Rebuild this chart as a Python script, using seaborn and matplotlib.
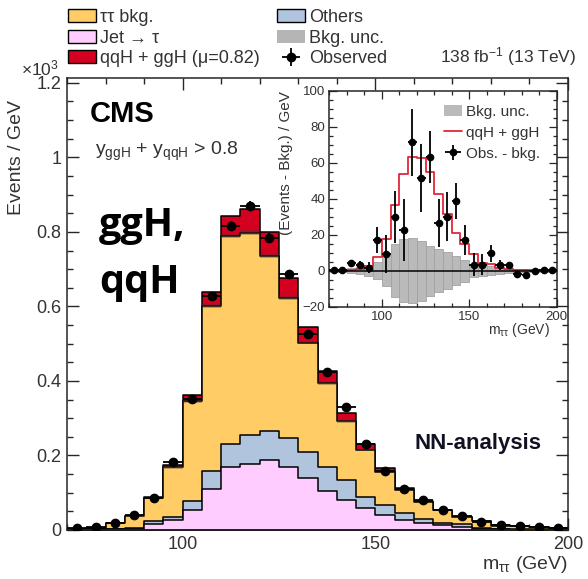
import numpy as np
import pandas as pd
import matplotlib
matplotlib.use("Agg")
import matplotlib.pyplot as plt
from matplotlib.patches import Patch
from matplotlib.lines import Line2D
from matplotlib.ticker import MultipleLocator, FuncFormatter
import seaborn as sns

# ---------------- data ----------------
mass_edges = list(range(70, 205, 5))
mass_centers = np.array(mass_edges[:-1]) + 2.5

# main panel, in units of 10^3 events / GeV
jet_fakes = [0.001, 0.002, 0.003, 0.004, 0.016, 0.027, 0.055, 0.111, 0.170, 0.177,
             0.188, 0.170, 0.139, 0.105, 0.080, 0.058, 0.040, 0.027, 0.018, 0.014,
             0.008, 0.003, 0.002, 0.001, 0.001, 0.0005]
others = [0.0005, 0.001, 0.001, 0.002, 0.007, 0.009, 0.024, 0.046, 0.061, 0.078,
          0.078, 0.076, 0.071, 0.063, 0.054, 0.031, 0.027, 0.019, 0.011, 0.006,
          0.007, 0.002, 0.001, 0.001, 0.0005, 0.0005]
tautau = [0.0015, 0.003, 0.014, 0.031, 0.063, 0.132, 0.266, 0.444, 0.558, 0.543,
          0.470, 0.376, 0.293, 0.227, 0.158, 0.126, 0.089, 0.062, 0.046, 0.033,
          0.020, 0.018, 0.009, 0.008, 0.0055, 0.004]
observed = [0.0046, 0.007, 0.0196, 0.040, 0.087, 0.182, 0.351, 0.628, 0.816, 0.870,
            0.784, 0.686, 0.526, 0.425, 0.329, 0.231, 0.157, 0.110, 0.081, 0.054,
            0.038, 0.022, 0.013, 0.011, 0.007, 0.005]
observed_err = [0.001, 0.001, 0.002, 0.003, 0.004, 0.006, 0.008, 0.011, 0.013, 0.013,
                0.012, 0.012, 0.010, 0.009, 0.008, 0.007, 0.006, 0.005, 0.004, 0.003,
                0.003, 0.002, 0.002, 0.001, 0.001, 0.001]
bkg_unc_main = [0.0005, 0.0005, 0.001, 0.001, 0.002, 0.003, 0.004, 0.005, 0.006, 0.006,
                0.006, 0.006, 0.005, 0.005, 0.004, 0.003, 0.002, 0.002, 0.001, 0.001,
                0.001, 0.001, 0.0005, 0.0005, 0.0005, 0.0005]

# qqH + ggH signal (mu = 0.82), events / GeV
signal = [0.0, 0.0, 0.3, 0.8, 2.4, 7.4, 17.8, 36.4, 53.8, 63.1,
          62.6, 55.0, 42.7, 31.2, 21.0, 14.5, 9.3, 4.3, 3.7, 1.5,
          0.7, 0.3, 0.2, 0.1, 0.0, 0.0]

# inset: observed minus background, events / GeV
obs_minus_bkg = [0.5, 0.5, 4.0, 3.3, 1.5, 17.0, 9.3, 29.7, 22.6, 71.3,
                 51.3, 63.3, 26.3, 30.0, 38.6, 17.0, 3.3, 3.3, 9.6, 3.0,
                 3.0, -2.2, -2.6, -0.4, 0.5, 0.5]
obs_minus_bkg_err = [1.0, 1.0, 2.0, 2.0, 3.0, 7.4, 10.4, 14.6, 17.4, 18.5,
                     19.0, 14.5, 13.4, 13.5, 10.2, 8.4, 6.2, 6.0, 4.8, 2.6,
                     2.0, 1.5, 1.2, 1.0, 1.0, 1.0]
bkg_unc = [0.8, 1.0, 1.5, 2.0, 3.2, 4.6, 8.7, 14.9, 17.6, 18.2,
           16.7, 13.9, 12.0, 10.2, 8.0, 6.1, 3.7, 2.8, 2.4, 1.9,
           1.3, 1.0, 0.6, 0.6, 0.6, 0.6]

legend_labels = ["\u03c4\u03c4 bkg.", "Jet \u2192 \u03c4", "qqH + ggH (\u03bc=0.82)",
                 "Others", "Bkg. unc.", "Observed"]

# ---------------- style ----------------
sns.set_style("ticks")
plt.rcParams["font.family"] = ["Liberation Sans", "DejaVu Sans"]
plt.rcParams["mathtext.fontset"] = "custom"
plt.rcParams["mathtext.rm"] = "Liberation Sans"
plt.rcParams["mathtext.it"] = "Liberation Sans:italic"
plt.rcParams["mathtext.bf"] = "Liberation Sans:bold"
plt.rcParams["axes.linewidth"] = 1.1

C_TT = "#ffcc66"
C_FAKE = "#ffccff"
C_OTH = "#b0c4de"
C_SIG = "#d3001f"
C_TXT = "#333333"

W, H = 588, 579
fig = plt.figure(figsize=(W / 100, H / 100), dpi=100)


def fx(px):
    return px / W


def fy(py):
    return 1 - py / H


# ---------------- main panel ----------------
ax = fig.add_axes([fx(67), fy(530), fx(568) - fx(67), fy(78) - fy(530)])

jet_a = np.array(jet_fakes)
cum_blue = jet_a + np.array(others)
cum_bkg = cum_blue + np.array(tautau)
cum_tot = cum_bkg + np.array(signal) / 1000.0

stack = pd.DataFrame({"m": mass_centers, "total": cum_tot, "bkg": cum_bkg,
                      "blue": cum_blue, "fake": jet_a})

for col, colour in [("total", C_SIG), ("bkg", C_TT), ("blue", C_OTH), ("fake", C_FAKE)]:
    sns.histplot(data=stack, x="m", weights=col, bins=mass_edges, element="step",
                 fill=True, color=colour, alpha=1, edgecolor="black", linewidth=1.1,
                 ax=ax)

unc_m = np.array(bkg_unc_main)
ax.bar(mass_centers, 2 * unc_m, bottom=cum_bkg - unc_m, width=5,
       color="#3a3a3a", alpha=0.35, linewidth=0, zorder=3)

obs_handle = ax.errorbar(mass_centers, observed, yerr=observed_err, xerr=2.5,
                         fmt="o", color="black", ms=6, elinewidth=1.3, capsize=0,
                         zorder=5)

ax.set_xlim(70, 200)
ax.set_ylim(0, 1.213)
ax.xaxis.set_major_locator(MultipleLocator(50))
ax.xaxis.set_minor_locator(MultipleLocator(10))
ax.yaxis.set_major_locator(MultipleLocator(0.2))
ax.yaxis.set_minor_locator(MultipleLocator(0.05))
ax.yaxis.set_major_formatter(FuncFormatter(lambda v, p: f"{v:g}"))
ax.tick_params(which="both", direction="in", top=True, right=True,
               labelsize=13, labelcolor=C_TXT, width=1.0)
ax.tick_params(which="major", length=8.6, pad=4)
ax.tick_params(which="minor", length=4.3)
ax.set_xlabel(r"$\mathregular{m_{\tau\tau}}$ (GeV)", fontsize=14, color=C_TXT,
              ha="right")
ax.xaxis.set_label_coords(1.0, -0.052)
ax.set_ylabel("Events / GeV", fontsize=14, color=C_TXT, ha="right")
ax.yaxis.set_label_coords(-0.084, 0.951)

# ---------------- inset ----------------
ax_in = fig.add_axes([fx(329.3), fy(306.5), fx(556.7) - fx(329.3), fy(90.7) - fy(306.5)])
ax_in.set_facecolor("white")
unc_i = np.array(bkg_unc)
ax_in.bar(mass_centers, 2 * unc_i, bottom=-unc_i, width=5, color="#bababa",
          edgecolor="#a2a2a2", linewidth=0.6, zorder=1)
sig_df = pd.DataFrame({"m": mass_centers, "sig": signal})
sns.histplot(data=sig_df, x="m", weights="sig", bins=mass_edges, element="step",
             fill=False, color="#e3263a", linewidth=1.3, ax=ax_in, zorder=2)
ax_in.axhline(0, color="black", lw=1.1, zorder=3)
in_obs = ax_in.errorbar(mass_centers, obs_minus_bkg, yerr=obs_minus_bkg_err, xerr=2.5,
                        fmt="o", color="black", ms=4.5, elinewidth=1.3, capsize=0,
                        zorder=4)
ax_in.set_xlim(70, 200)
ax_in.set_ylim(-20, 100)
ax_in.xaxis.set_major_locator(MultipleLocator(50))
ax_in.xaxis.set_minor_locator(MultipleLocator(10))
ax_in.yaxis.set_major_locator(MultipleLocator(20))
ax_in.yaxis.set_minor_locator(MultipleLocator(5))
ax_in.tick_params(which="both", direction="in", top=True, right=True,
                  labelsize=9.5, labelcolor=C_TXT, width=0.9)
ax_in.tick_params(which="major", length=5.8, pad=3)
ax_in.tick_params(which="minor", length=2.9)
ax_in.set_xlabel(r"$\mathregular{m_{\tau\tau}}$ (GeV)", fontsize=10, color=C_TXT,
                 ha="right")
ax_in.xaxis.set_label_coords(0.97, -0.066)
ax_in.set_ylabel("(Events - Bkg.) / GeV", fontsize=11, color=C_TXT, ha="right")
ax_in.yaxis.set_label_coords(-0.158, 1.0)

ax_in.legend([Patch(facecolor="#bababa", edgecolor="none"),
              Line2D([], [], color="#e3263a", lw=1.3), in_obs],
             ["Bkg. unc.", "qqH + ggH", "Obs. - bkg."],
             loc="upper left", bbox_to_anchor=(0.504, 0.935), frameon=False,
             fontsize=11, handlelength=1.2, handleheight=0.8, handletextpad=0.25,
             labelspacing=0.45, borderpad=0, borderaxespad=0, labelcolor=C_TXT)

# ---------------- figure legend and labels ----------------
handles = [Patch(facecolor=C_TT, edgecolor="black", linewidth=1.0),
           Patch(facecolor=C_FAKE, edgecolor="black", linewidth=1.0),
           Patch(facecolor=C_SIG, edgecolor="black", linewidth=1.0),
           Patch(facecolor=C_OTH, edgecolor="black", linewidth=1.0),
           Patch(facecolor="#b5b5b5", edgecolor="none"),
           obs_handle]
fig.legend(handles, legend_labels, ncol=2, loc="upper left",
           bbox_to_anchor=(fx(68), fy(9)), frameon=False, fontsize=13,
           handlelength=1.55, handleheight=0.72, handletextpad=0.2,
           labelspacing=0.2, columnspacing=1.0, borderpad=0, borderaxespad=0,
           labelcolor=C_TXT)

fig.text(fx(576), fy(62), r"138 fb$^{-1}$ (13 TeV)", ha="right", va="baseline",
         fontsize=12.5, color=C_TXT)
fig.text(fx(21), fy(75), r"$\mathregular{\times10^{3}}$", ha="left", va="baseline",
         fontsize=12.5, color=C_TXT)

fig.text(fx(90), fy(121.7), "CMS", fontsize=21, fontweight="bold", va="baseline",
         color="black")
fig.text(fx(95), fy(155), r"$\mathregular{y_{ggH}}$ + $\mathregular{y_{qqH}}$ > 0.8",
         fontsize=14, va="baseline", color=C_TXT)
fig.text(fx(99), fy(236), "ggH,", fontsize=28.5, fontweight="bold", family="Open Sans",
         va="baseline", color="black")
fig.text(fx(99), fy(293.5), "qqH", fontsize=28.5, fontweight="bold", family="Open Sans",
         va="baseline", color="black")
fig.text(fx(415), fy(449.3), "NN-analysis", fontsize=16, fontweight="bold",
         va="baseline", color="#111122")

fig.savefig("out.png", dpi=100)
